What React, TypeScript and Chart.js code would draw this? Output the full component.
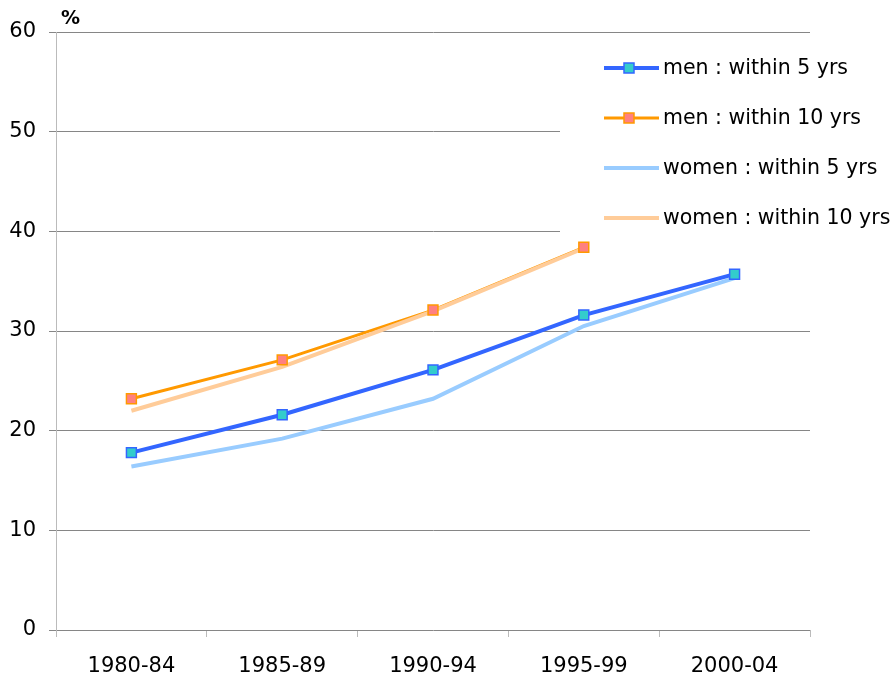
import React, { useEffect, useRef } from "react";
import { Chart, registerables } from "chart.js";

Chart.register(...registerables);

const categories = ["1980-84", "1985-89", "1990-94", "1995-99", "2000-04"];
const men5 = [17.8, 21.6, 26.1, 31.6, 35.7];
const men10 = [23.2, 27.1, 32.1, 38.4, null];
const women5 = [16.4, 19.2, 23.2, 30.5, 35.3];
const women10 = [22.0, 26.4, 32.0, 38.3, null];
const legendLabels = ["men : within 5 yrs", "men : within 10 yrs", "women : within 5 yrs", "women : within 10 yrs"];
const yTicks = [0, 10, 20, 30, 40, 50, 60];

const BLUE = "#3366FF";
const ORANGE = "#FF9900";
const LIGHTBLUE = "#99CCFF";
const PEACH = "#FFCC99";
const TURQ = "#33CCCC";
const SALMON = "#FF8080";
const FONT = "'DejaVu Sans', sans-serif";

const legendPlugin = {
  id: "customLegend",
  beforeDatasetsDraw(chart: any) {
    const ctx = chart.ctx;
    ctx.save();
    ctx.fillStyle = "#ffffff";
    ctx.fillRect(560, 40, 334, 198);
    ctx.restore();
  },
  afterDraw(chart: any) {
    const ctx = chart.ctx;
    ctx.save();
    const items = [
      { color: BLUE, marker: TURQ, width: 4 },
      { color: ORANGE, marker: SALMON, width: 3 },
      { color: LIGHTBLUE, marker: null, width: 4 },
      { color: PEACH, marker: null, width: 4 },
    ];
    items.forEach((it, i) => {
      const y = 68 + i * 50;
      ctx.strokeStyle = it.color;
      ctx.lineWidth = it.width;
      ctx.lineCap = "butt";
      ctx.beginPath();
      ctx.moveTo(604, y);
      ctx.lineTo(659, y);
      ctx.stroke();
      if (it.marker) {
        ctx.fillStyle = it.marker;
        ctx.fillRect(624, y - 5, 10, 10);
        ctx.lineWidth = 1.5;
        ctx.strokeStyle = it.color;
        ctx.strokeRect(624, y - 5, 10, 10);
      }
      ctx.fillStyle = "#000";
      ctx.font = "20.5px " + FONT;
      ctx.textBaseline = "middle";
      ctx.textAlign = "left";
      ctx.fillText(legendLabels[i], 663, y + 1);
    });
    ctx.font = "bold 19px " + FONT;
    ctx.textBaseline = "middle";
    ctx.fillText("%", 61, 19);
    ctx.restore();
  },
};

export default function App() {
  const ref = useRef<HTMLCanvasElement>(null);
  useEffect(() => {
    if (!ref.current) return;
    const lineDs = (data: any[], color: string, width: number, order: number) => ({
      data,
      borderColor: color,
      backgroundColor: color,
      borderWidth: width,
      pointRadius: 0,
      pointHoverRadius: 0,
      tension: 0,
      spanGaps: false,
      order,
    });
    const markerDs = (data: any[], color: string, fill: string, order: number) => ({
      data,
      showLine: false,
      borderColor: color,
      backgroundColor: fill,
      pointStyle: "rect",
      pointRadius: 7,
      pointBorderWidth: 1.5,
      pointBackgroundColor: fill,
      pointBorderColor: color,
      order,
    });
    const chart = new Chart(ref.current, {
      type: "line",
      data: {
        labels: categories,
        datasets: [
          markerDs(men5, BLUE, TURQ, 0),
          markerDs(men10, ORANGE, SALMON, 1),
          lineDs(men5, BLUE, 4, 2),
          lineDs(women10, PEACH, 4, 3),
          lineDs(women5, LIGHTBLUE, 4, 4),
          lineDs(men10, ORANGE, 3, 5),
        ] as any,
      },
      options: {
        animation: false,
        responsive: true,
        maintainAspectRatio: false,
        layout: { padding: { top: 32, right: 84, left: 0, bottom: 0 } },
        plugins: { legend: { display: false }, tooltip: { enabled: false } },
        scales: {
          x: {
            offset: true,
            grid: {
              offset: true,
              drawOnChartArea: false,
              drawTicks: true,
              tickLength: 7,
              color: "#bbbbbb",
            },
            border: { display: false },
            ticks: { color: "#000", font: { family: FONT, size: 21 }, padding: 17, maxRotation: 0 },
            afterFit: (s: any) => {
              s.height = 51;
            },
          },
          y: {
            min: 0,
            max: 60,
            afterBuildTicks: (s: any) => {
              s.ticks = yTicks.map((v) => ({ value: v }));
            },
            grid: { color: "#868686", tickLength: 7, drawTicks: true },
            border: { display: true, color: "#bbbbbb", width: 1 },
            ticks: { color: "#000", font: { family: FONT, size: 21 }, padding: 13 },
            afterFit: (s: any) => {
              s.width = 56;
            },
          },
        },
      },
      plugins: [legendPlugin],
    });
    return () => chart.destroy();
  }, []);
  return (
    <div style={{ position: "absolute", left: 0, top: 0, width: 894, height: 681, background: "#fff" }}>
      <canvas ref={ref} />
    </div>
  );
}
